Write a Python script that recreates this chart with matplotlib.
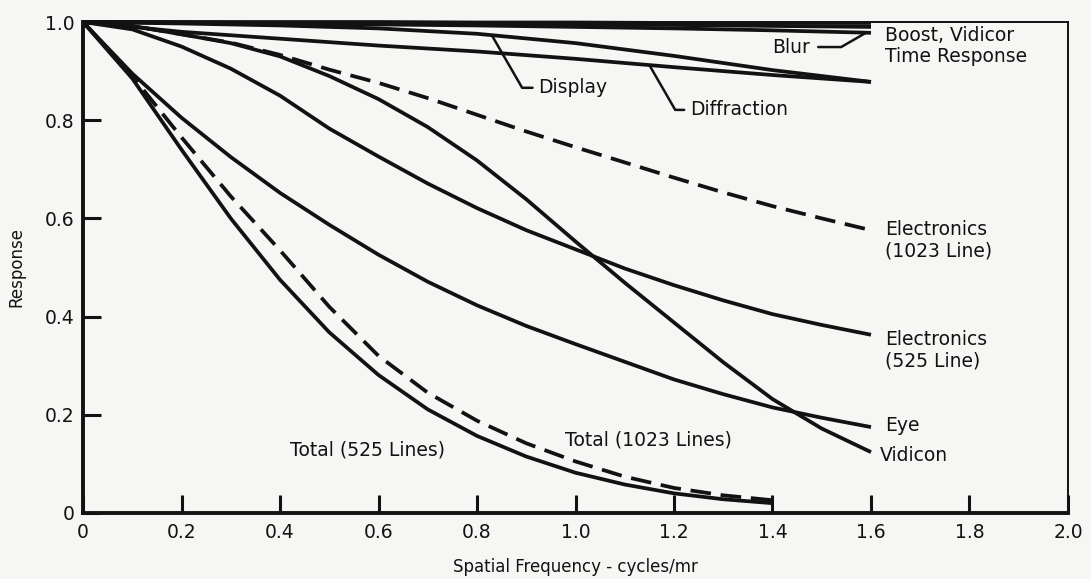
import numpy as np
import matplotlib
matplotlib.use("Agg")
import matplotlib.pyplot as plt

# ---- data ----
x_long = [0.0, 0.1, 0.2, 0.3, 0.4, 0.5, 0.6, 0.7, 0.8, 0.9, 1.0, 1.1, 1.2, 1.3, 1.4, 1.5, 1.6]
x_total = [0.0, 0.1, 0.2, 0.3, 0.4, 0.5, 0.6, 0.7, 0.8, 0.9, 1.0, 1.1, 1.2, 1.3, 1.4]
x_top = [0.0, 0.2, 0.4, 0.6, 0.8, 1.0, 1.2, 1.4, 1.6]

boost = [1.0, 1.0, 1.0, 1.0, 0.999, 0.999, 0.998, 0.998, 0.998]
vidicon_time = [1.0, 0.999, 0.998, 0.997, 0.996, 0.995, 0.994, 0.992, 0.99]
blur = [1.0, 0.999, 0.997, 0.995, 0.993, 0.990, 0.987, 0.983, 0.978]
display = [1.0, 0.997, 0.993, 0.987, 0.976, 0.957, 0.931, 0.902, 0.878]
diffraction = [1.0, 0.98, 0.966, 0.952, 0.94, 0.925, 0.908, 0.892, 0.878]

electronics_1023 = [1.0, 0.992, 0.975, 0.958, 0.933, 0.903, 0.876, 0.845, 0.811, 0.777,
                    0.745, 0.714, 0.683, 0.653, 0.625, 0.60, 0.576]
vidicon = [1.0, 0.992, 0.975, 0.957, 0.93, 0.89, 0.843, 0.786, 0.718, 0.639,
           0.553, 0.469, 0.388, 0.307, 0.232, 0.172, 0.124]
electronics_525 = [1.0, 0.985, 0.95, 0.905, 0.85, 0.783, 0.726, 0.671, 0.621, 0.576,
                   0.537, 0.498, 0.464, 0.433, 0.405, 0.383, 0.363]
eye = [1.0, 0.895, 0.805, 0.725, 0.652, 0.587, 0.526, 0.471, 0.423, 0.381,
       0.344, 0.308, 0.272, 0.242, 0.215, 0.194, 0.175]
total_525 = [1.0, 0.885, 0.74, 0.60, 0.475, 0.368, 0.281, 0.211, 0.157, 0.115,
             0.082, 0.058, 0.04, 0.028, 0.02]
total_1023 = [1.0, 0.89, 0.765, 0.645, 0.535, 0.42, 0.32, 0.245, 0.188, 0.142,
              0.105, 0.074, 0.051, 0.036, 0.026]

x_ticks = [0, 0.2, 0.4, 0.6, 0.8, 1.0, 1.2, 1.4, 1.6, 1.8, 2.0]
x_tick_labels = ["0", "0.2", "0.4", "0.6", "0.8", "1.0", "1.2", "1.4", "1.6", "1.8", "2.0"]
y_ticks = [0, 0.2, 0.4, 0.6, 0.8, 1.0]
y_tick_labels = ["0", "0.2", "0.4", "0.6", "0.8", "1.0"]

# ---- figure ----
INK = "#121212"
BG = "#f6f6f4"
plt.rcParams["font.family"] = ["DejaVu Sans"]

fig = plt.figure(figsize=(10.91, 5.79), dpi=100, facecolor=BG)
ax = fig.add_axes([0.0761, 0.114, 0.9028, 0.848])
ax.set_facecolor(BG)

LW = 2.7
dash = (0, (5.5, 2.6))

def line(xs, ys, ls="-"):
    ax.plot(xs, ys, color=INK, lw=LW, ls=ls, solid_capstyle="butt",
            dash_capstyle="butt", solid_joinstyle="round", clip_on=False)

line(x_top, boost)
line(x_top, vidicon_time)
line(x_top, blur)
line(x_top, display)
line(x_top, diffraction)
line(x_long, electronics_1023, dash)
line(x_long, vidicon)
line(x_long, electronics_525)
line(x_long, eye)
line(x_total, total_525)
line(x_total, total_1023, dash)

ax.set_xlim(0, 2.0)
ax.set_ylim(0, 1.0)
ax.set_xticks(x_ticks)
ax.set_xticklabels(x_tick_labels)
ax.set_yticks(y_ticks)
ax.set_yticklabels(y_tick_labels)
ax.tick_params(direction="in", length=13, width=2.2, color=INK,
               labelsize=13.5, labelcolor=INK)
ax.tick_params(axis="x", pad=7)
ax.tick_params(axis="y", pad=6)

for side in ("left", "bottom"):
    ax.spines[side].set_linewidth(2.8)
for side in ("top", "right"):
    ax.spines[side].set_linewidth(1.4)
for s in ax.spines.values():
    s.set_color(INK)

ax.set_xlabel("Spatial Frequency - cycles/mr", fontsize=12, color=INK, labelpad=12)
ax.set_ylabel("Response", fontsize=12, color=INK, labelpad=14)

FS = 13.5
txt = dict(fontsize=FS, color=INK, va="center", ha="left")

ax.text(1.628, 0.951, "Boost, Vidicor\nTime Response", linespacing=1.15, **txt)
ax.text(1.628, 0.556, "Electronics\n(1023 Line)", linespacing=1.15, **txt)
ax.text(1.628, 0.332, "Electronics\n(525 Line)", linespacing=1.15, **txt)
ax.text(1.628, 0.179, "Eye", **txt)
ax.text(1.618, 0.118, "Vidicon", **txt)
ax.text(0.42, 0.128, "Total (525 Lines)", **txt)
ax.text(0.979, 0.149, "Total (1023 Lines)", **txt)

lead = dict(arrowstyle="-", color=INK, lw=1.8, shrinkA=2, shrinkB=0)

ax.annotate("Display", xy=(0.83, np.interp(0.83, x_top, display)),
            xytext=(0.924, 0.866),
            arrowprops=dict(connectionstyle="angle,angleA=0,angleB=120,rad=0", **lead),
            **txt)
ax.annotate("Diffraction", xy=(1.15, np.interp(1.15, x_top, diffraction)),
            xytext=(1.232, 0.821),
            arrowprops=dict(connectionstyle="angle,angleA=0,angleB=120,rad=0", **lead),
            **txt)
ax.annotate("Blur", xy=(1.59, np.interp(1.59, x_top, blur)),
            xytext=(1.399, 0.949),
            arrowprops=dict(connectionstyle="angle,angleA=0,angleB=30,rad=0",
                            arrowstyle="-", color=INK, lw=1.8, shrinkA=4, shrinkB=0),
            **txt)

fig.savefig("out.png", dpi=100, facecolor=BG)
